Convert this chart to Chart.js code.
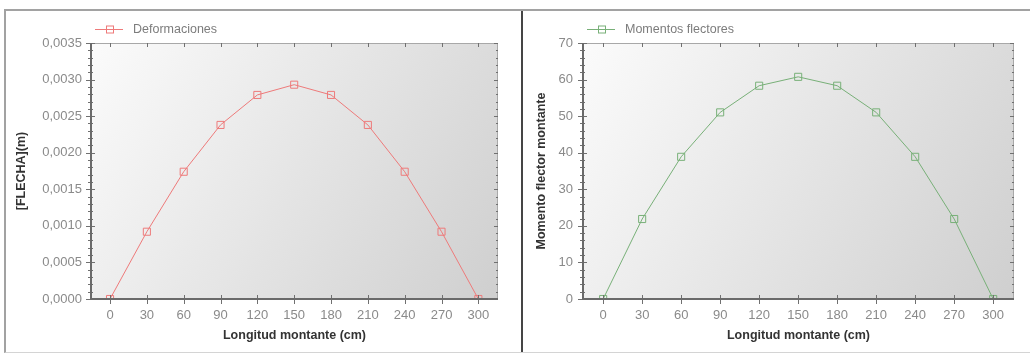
<!DOCTYPE html>
<html>
<head>
<meta charset="utf-8">
<script src="https://cdn.jsdelivr.net/npm/chart.js@4/dist/chart.umd.min.js"></script>
<style>
  html, body { margin: 0; padding: 0; background: #fff; }
  body { width: 1030px; height: 354px; position: relative; overflow: hidden; }
  #frame {
    position: absolute; left: 4px; top: 9px; width: 1026px; height: 341px;
    border-top: 2px solid #a2a2a2; border-left: 2px solid #a2a2a2; border-bottom: 1px solid #d4d4d4;
  }
  #divider { position: absolute; left: 521px; top: 11px; width: 2px; height: 341px; background: #454545; }
  canvas { position: absolute; top: 12px; }
  #deformChart { left: 7px; }
  #momentChart { left: 525px; }
</style>
</head>
<body>
<div id="frame"></div>
<div id="divider"></div>
<canvas id="deformChart" width="514" height="339"></canvas>
<canvas id="momentChart" width="505" height="339"></canvas>

<script>
// posiciones a lo largo del montante (cm)
const longitudes = [0, 30, 60, 90, 120, 150, 180, 210, 240, 270, 300];

// flecha en metros
const flechas = [0, 0.00092, 0.00174, 0.00238, 0.00279, 0.00293, 0.00279, 0.00238, 0.00174, 0.00092, 0];

// momento flector
const momentos = [0, 21.87, 38.88, 51.03, 58.32, 60.75, 58.32, 51.03, 38.88, 21.87, 0];

const FONT = "'Liberation Sans', Arial, sans-serif";

// fondo degradado, marco con marcas menores y leyenda de linea con marcador
const marcoPlugin = {
    id: 'marco',
    beforeDatasetsDraw(chart) {
        const { ctx, chartArea: a } = chart;
        const g = ctx.createLinearGradient(a.left, a.top, a.right, a.bottom);
        g.addColorStop(0, '#fbfbfb');
        g.addColorStop(1, '#cfcfcf');
        ctx.save();
        ctx.fillStyle = g;
        ctx.fillRect(a.left, a.top, a.right - a.left, a.bottom - a.top);
        ctx.restore();
    },
    afterDatasetsDraw(chart, args, opts) {
        const { ctx, chartArea: a } = chart;
        const x = chart.scales.x, y = chart.scales.y;
        ctx.save();
        ctx.lineWidth = 1;

        // lados superior y derecho
        ctx.strokeStyle = '#a8a8a8';
        ctx.beginPath();
        ctx.moveTo(a.left, a.top + 0.5); ctx.lineTo(a.right, a.top + 0.5);
        ctx.moveTo(a.right - 0.5, a.top); ctx.lineTo(a.right - 0.5, a.bottom);
        ctx.stroke();

        // marcas del eje Y (mayores y menores)
        const step = opts.stepY, minor = step / 5;
        ctx.beginPath();
        for (let v = y.min; v <= y.max + minor / 2; v += minor) {
            const py = Math.round(y.getPixelForValue(v)) + 0.5;
            const major = Math.abs(v / step - Math.round(v / step)) < 1e-6;
            ctx.moveTo(a.left - (major ? 5 : 3), py); ctx.lineTo(a.left + (major ? 4 : 2), py);
            ctx.moveTo(a.right - (major ? 4 : 2), py); ctx.lineTo(a.right, py);
        }
        ctx.strokeStyle = '#707070';
        ctx.stroke();

        // marcas del eje X
        ctx.beginPath();
        longitudes.forEach(v => {
            const px = Math.round(x.getPixelForValue(v)) + 0.5;
            ctx.moveTo(px, a.bottom - 4); ctx.lineTo(px, a.bottom + 5);
            ctx.moveTo(px, a.top); ctx.lineTo(px, a.top + 4);
        });
        ctx.stroke();

        // lados izquierdo e inferior
        ctx.lineWidth = 2;
        ctx.strokeStyle = '#6a6a6a';
        ctx.beginPath();
        ctx.moveTo(a.left, a.top); ctx.lineTo(a.left, a.bottom);
        ctx.lineTo(a.right, a.bottom);
        ctx.stroke();
        ctx.restore();
    },
    afterDraw(chart) {
        const { ctx, chartArea: a } = chart;
        const ds = chart.data.datasets[0];
        const x0 = a.left + 4, yl = 17.5;
        ctx.save();
        ctx.strokeStyle = ds.borderColor;
        ctx.lineWidth = 1;
        ctx.beginPath();
        ctx.moveTo(x0, yl); ctx.lineTo(x0 + 28, yl);
        ctx.stroke();
        ctx.strokeRect(x0 + 11.5, yl - 3.5, 7, 7);
        ctx.fillStyle = '#7c7c7c';
        ctx.font = '12.5px ' + FONT;
        ctx.textBaseline = 'middle';
        ctx.fillText(ds.label, x0 + 38, yl);
        ctx.restore();
    }
};

function crearGrafico(id, cfg) {
    const ctx = document.getElementById(id);
    return new Chart(ctx, {
        type: 'line',
        data: {
            datasets: [{
                label: cfg.label,
                data: longitudes.map((l, i) => ({ x: l, y: cfg.valores[i] })),
                borderColor: cfg.color,
                borderWidth: 1,
                pointStyle: 'rect',
                pointRadius: 5,
                pointBorderWidth: 1,
                pointBackgroundColor: 'rgba(255,255,255,0)',
                pointBorderColor: cfg.color,
                tension: 0
            }]
        },
        options: {
            responsive: false,
            animation: false,
            events: [],
            layout: { padding: { top: 31, right: cfg.padRight, bottom: 0, left: 0 } },
            scales: {
                x: {
                    type: 'linear',
                    min: -15.5,
                    max: 316,
                    afterBuildTicks: s => { s.ticks = longitudes.map(v => ({ value: v })); },
                    afterFit: s => { s.height = 52; },
                    grid: { display: false, drawTicks: false },
                    border: { display: false },
                    ticks: { color: '#8a8a8a', padding: 9, font: { family: FONT, size: 13 } },
                    title: {
                        display: true,
                        text: 'Longitud montante (cm)',
                        color: '#333',
                        padding: { top: 0, bottom: 8 },
                        font: { family: FONT, size: 12.5, weight: 'bold' }
                    }
                },
                y: {
                    min: 0,
                    max: cfg.maxY,
                    afterFit: s => { s.width = cfg.anchoY; },
                    grid: { display: false, drawTicks: false },
                    border: { display: false },
                    ticks: {
                        stepSize: cfg.stepY,
                        color: '#8a8a8a',
                        padding: cfg.padTicksY,
                        font: { family: FONT, size: 13 },
                        callback: cfg.formato
                    },
                    title: {
                        display: true,
                        text: cfg.tituloY,
                        color: '#333',
                        padding: { top: cfg.padTituloY, bottom: 0 },
                        font: { family: FONT, size: 12.5, weight: 'bold' }
                    }
                }
            },
            plugins: {
                legend: { display: false },
                tooltip: { enabled: false },
                marco: { stepY: cfg.stepY }
            }
        },
        plugins: [marcoPlugin]
    });
}

crearGrafico('deformChart', {
    label: 'Deformaciones',
    valores: flechas,
    color: '#ee7a7a',
    maxY: 0.0035,
    stepY: 0.0005,
    anchoY: 84,
    padTicksY: 9,
    padTituloY: 7.5,
    padRight: 23,
    tituloY: '[FLECHA](m)',
    formato: v => v.toFixed(4).replace('.', ',')
});

crearGrafico('momentChart', {
    label: 'Momentos flectores',
    valores: momentos,
    color: '#78b078',
    maxY: 70,
    stepY: 10,
    anchoY: 58,
    padTicksY: 10,
    padTituloY: 9.5,
    padRight: 16,
    tituloY: 'Momento flector montante',
    formato: v => String(v)
});
</script>
</body>
</html>
